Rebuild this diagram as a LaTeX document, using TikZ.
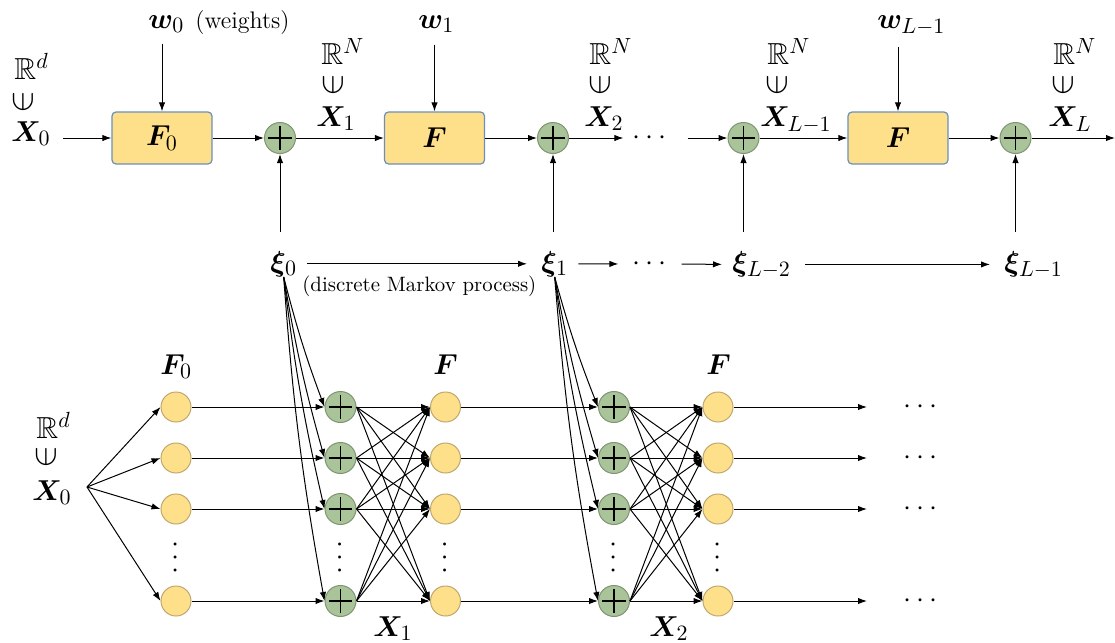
\documentclass[tikz,border=0pt]{standalone}
\usepackage{amsmath,amssymb,bm}
\usetikzlibrary{arrows.meta,calc}
\definecolor{boxfill}{RGB}{255,224,138}
\definecolor{boxdraw}{RGB}{108,142,191}
\definecolor{nodefill}{RGB}{255,224,138}
\definecolor{nodedraw}{RGB}{190,168,112}
\definecolor{sumfill}{RGB}{169,196,152}
\definecolor{sumdraw}{RGB}{128,148,116}
\newcommand{\mfont}{\fontsize{15.2}{18}\selectfont}
\begin{document}
\begin{tikzpicture}[x=0.5pt,y=-0.5pt,
  arr/.style={-{Latex[length=4.5pt,width=3.2pt]}, line width=0.5pt},
  fbox/.style={draw=boxdraw, fill=boxfill, rounded corners=2pt, minimum width=50pt, minimum height=26pt, line width=0.6pt, inner sep=0},
  neuron/.style={circle, draw=nodedraw, fill=nodefill, minimum size=15pt, inner sep=0, line width=0.5pt},
  sumnode/.style={circle, draw=sumdraw, fill=sumfill, minimum size=15.5pt, inner sep=0, line width=0.5pt,
    path picture={\draw[black, line width=0.55pt] ([xshift=-5.8pt]path picture bounding box.center) -- ([xshift=5.8pt]path picture bounding box.center) ([yshift=-5.8pt]path picture bounding box.center) -- ([yshift=5.8pt]path picture bounding box.center);}},
  lbl/.style={anchor=base west, inner sep=0, font=\mfont},
  elem/.style={rotate=90, inner sep=0, font=\fontsize{16}{18}\selectfont},
  dotsn/.style={inner sep=0, font=\Large}
]
\useasboundingbox (0,0) rectangle (1115,643);

% ---------- top row ----------
\node[fbox] (F0) at (162,138) {\mfont$\bm{F}_0$};
\node[fbox] (F1) at (434.5,138) {\mfont$\bm{F}$};
\node[fbox] (FL) at (898,138) {\mfont$\bm{F}$};
\node[sumnode] (c1) at (280,138) {};
\node[sumnode] (c2) at (553,138) {};
\node[sumnode] (c3) at (743.5,138) {};
\node[sumnode] (c4) at (1015.5,138) {};
\node[dotsn] (dT) at (652,138) {$\cdots$};
\coordinate (outT) at (1115,138);

% labels
\node[lbl] (R0) at (14,79) {$\mathbb{R}^d$};
\node[elem] (in0) at (23,102) {$\in$};
\node[lbl] (X0) at (11,141) {$\bm{X}_0$};
\node[lbl] (R1) at (321,64) {$\mathbb{R}^N$};
\node[elem] (in1) at (333,85) {$\in$};
\node[lbl] (X1) at (316,126) {$\bm{X}_1$};
\node[lbl] (R2) at (589,64) {$\mathbb{R}^N$};
\node[elem] (in2) at (600,85) {$\in$};
\node[lbl] (X2) at (584,126) {$\bm{X}_2$};
\node[lbl] (R3) at (767,64) {$\mathbb{R}^N$};
\node[elem] (in3) at (777,85) {$\in$};
\node[lbl] (X3) at (760,126) {$\bm{X}_{L-1}$};
\node[lbl] (R4) at (1053,64) {$\mathbb{R}^N$};
\node[elem] (in4) at (1063,85) {$\in$};
\node[lbl] (X4) at (1048,126) {$\bm{X}_L$};

\node[lbl] (w0) at (148,28) {$\bm{w}_0$};
\node[anchor=base west, inner sep=0, font=\large] (wt) at (195,28) {(weights)};
\node[lbl] (w1) at (418,28) {$\bm{w}_1$};
\node[lbl] (wL) at (877,28) {$\bm{w}_{L-1}$};

\node[lbl] (xi0) at (270,271) {$\bm{\xi}_0$};
\node[lbl] (xi1) at (541,271) {$\bm{\xi}_1$};
\node[lbl] (xi2) at (732,271) {$\bm{\xi}_{L-2}$};
\node[lbl] (xi3) at (1004,271) {$\bm{\xi}_{L-1}$};
\node[dotsn] (dX) at (652,264) {$\cdots$};
\node[anchor=base west, inner sep=0, font=\fontsize{10.4}{12}\selectfont] (mk) at (302,291) {(discrete Markov process)};

% top arrows
\draw[arr, shorten <=6pt] (X0.east |- F0.west) -- (F0.west);
\draw[arr] (F0) -- (c1);
\draw[arr] (c1) -- (F1);
\draw[arr] (F1) -- (c2);
\draw[arr, shorten >=4.5pt] (c2) -- (dT);
\draw[arr, shorten <=8pt] (dT) -- (c3);
\draw[arr] (c3) -- (FL);
\draw[arr] (FL) -- (c4);
\draw[arr] (c4) -- (outT);

\draw[arr, shorten <=5.5pt] (w0.south -| F0.north) -- (F0.north);
\draw[arr, shorten <=6pt] (w1.south -| F1.north) -- (F1.north);
\draw[arr, shorten <=6pt] (wL.south -| FL.north) -- (FL.north);

\draw[arr, shorten <=9.5pt] (c1 |- xi0.north) -- (c1);
\draw[arr, shorten <=9.5pt] (c2 |- xi1.north) -- (c2);
\draw[arr, shorten <=9.5pt] (c3 |- xi2.north) -- (c3);
\draw[arr, shorten <=9.5pt] (c4 |- xi3.north) -- (c4);

\draw[arr, shorten <=5pt, shorten >=7pt] (xi0.east) -- (xi1.west);
\draw[arr, shorten <=5pt, shorten >=7pt] (xi1.east) -- (dX.west);
\draw[arr, shorten <=5pt, shorten >=5pt] (dX.east) -- (xi2.west);
\draw[arr, shorten <=7pt, shorten >=7pt] (xi2.east) -- (xi3.west);

% ---------- bottom network ----------
\node[lbl] (Rb) at (36,438) {$\mathbb{R}^d$};
\node[elem] (inb) at (46,457) {$\in$};
\node[lbl] (Xb) at (32,500) {$\bm{X}_0$};
\node[lbl] (Fb0) at (160,374) {$\bm{F}_0$};
\node[lbl] (Fb1) at (433,374) {$\bm{F}$};
\node[lbl] (Fb2) at (706,374) {$\bm{F}$};
\node[lbl] (Xb1) at (373,636) {$\bm{X}_1$};
\node[lbl] (Xb2) at (649,636) {$\bm{X}_2$};
\coordinate (fan) at (87,487);

\foreach \r/\yy in {1/407,2/458,3/509,4/601}{
  \node[neuron] (y\r) at (176,\yy) {};
  \node[sumnode] (g\r) at (340.5,\yy) {};
  \node[neuron] (z\r) at (445.5,\yy) {};
  \node[sumnode] (h\r) at (614,\yy) {};
  \node[neuron] (u\r) at (718,\yy) {};
  \coordinate (e\r) at (867,\yy);
  \node[dotsn] (d\r) at (923,\yy) {$\cdots$};
}
\foreach \xx/\nm in {176/v1,340.5/v2,445.5/v3,614/v4,718/v5}{
  \node[dotsn, rotate=90] (\nm) at (\xx,555) {$\cdots$};
}
\foreach \r in {1,...,4}{
  \draw[arr] (fan) -- (y\r.west);
  \draw[arr] (y\r) -- (g\r);
  \draw[arr] (z\r) -- (h\r);
  \draw[arr] (u\r) -- (e\r);
  \draw[arr] (xi0.south) to[bend right=3] (g\r.west);
  \draw[arr] (xi1.south) to[bend right=3] (h\r.west);
  \foreach \s in {1,...,4}{
    \draw[arr] (g\r.east) -- (z\s.west);
    \draw[arr] (h\r.east) -- (u\s.west);
  }
}
\end{tikzpicture}
\end{document}
